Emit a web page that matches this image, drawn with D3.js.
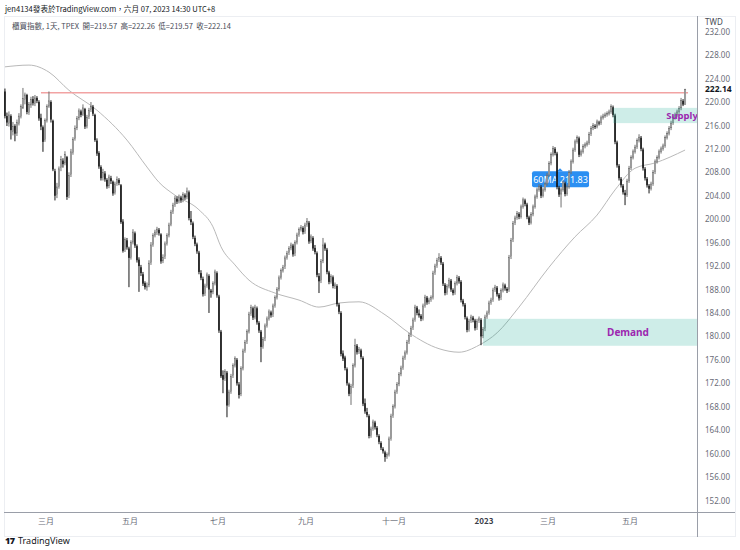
<!DOCTYPE html>
<html><head><meta charset="utf-8">
<script src="https://cdn.jsdelivr.net/npm/d3@7/dist/d3.min.js"></script>
<style>body{margin:0;background:#fff}svg{display:block;font-family:"Noto Sans CJK TC","Noto Sans",sans-serif}</style>
</head><body><svg id="c" width="740" height="550"></svg>
<script>
const opens=[221.8,217.6,216.3,217.6,215.0,215.9,214.7,216.3,217.5,219.0,
220.4,221.2,218.2,219.5,220.5,219.7,220.7,220.0,217.3,215.7,
213.6,216.9,219.3,220.0,216.8,208.2,204.2,205.6,208.8,210.0,
209.6,210.6,204.0,207.6,211.4,213.8,215.6,217.3,218.4,217.9,
218.8,215.9,217.5,218.7,219.2,217.8,213.4,211.3,208.9,207.1,
207.8,206.7,205.7,207.0,206.4,204.6,206.1,206.7,205.8,199.6,
194.8,196.4,195.0,193.5,196.1,197.6,195.4,193.1,191.8,190.6,
189.1,188.3,188.8,192.6,195.7,197.3,197.7,198.2,197.4,192.9,
193.6,195.9,197.3,199.1,201.3,202.5,203.5,203.1,203.7,203.3,
204.1,203.8,204.6,200.0,199.3,196.8,195.7,194.3,190.8,189.8,
187.3,188.7,190.3,187.8,187.6,189.1,190.8,186.8,180.8,173.4,
172.8,173.8,168.4,170.6,173.3,175.1,176.0,171.8,170.2,174.6,
177.6,179.1,180.9,183.9,184.8,183.3,184.8,182.3,180.8,178.3,
179.6,181.9,183.1,184.1,183.7,185.3,186.7,188.1,190.1,191.3,
191.9,193.5,194.3,195.1,195.5,194.1,196.1,197.4,198.3,198.5,
197.9,199.1,199.4,196.3,196.8,195.1,194.2,190.3,189.5,192.9,
195.7,194.8,190.9,189.4,190.1,188.5,188.6,185.4,184.0,177.1,
176.4,174.4,171.8,170.3,171.6,175.1,178.4,177.4,177.6,176.3,
168.6,167.1,166.4,163.1,164.3,165.3,164.4,163.0,161.8,160.8,
160.2,159.5,159.9,162.6,166.5,168.1,170.6,171.9,173.6,174.7,
176.4,177.3,179.1,180.3,181.5,182.9,184.9,183.9,183.5,183.1,
185.3,186.6,185.9,186.3,186.7,190.9,192.1,193.1,193.4,192.4,
188.8,187.5,188.6,189.5,187.9,187.5,189.1,190.0,189.3,186.1,
185.4,183.1,181.2,182.7,183.2,182.7,181.5,182.7,182.8,180.1,
181.3,183.4,184.1,185.8,186.3,188.0,188.3,187.1,186.6,187.9,
188.7,188.1,188.0,193.6,196.5,199.4,200.3,200.9,200.5,202.2,
203.2,202.5,200.3,199.5,200.9,202.2,203.9,205.1,205.5,204.1,
205.1,206.1,207.6,209.6,211.1,212.0,211.2,205.4,204.3,205.1,
206.1,204.4,205.6,208.1,209.9,211.9,213.3,213.8,211.1,211.6,
212.5,212.8,213.1,214.6,215.6,215.9,215.9,216.5,216.5,217.4,
217.7,217.9,218.1,218.4,219.1,217.7,213.1,209.1,206.9,205.7,
204.5,204.2,206.6,208.8,210.6,211.6,212.4,213.5,213.9,211.9,
208.6,206.9,205.7,205.3,206.1,208.1,209.9,210.6,211.6,212.1,
212.6,214.0,214.7,215.6,216.5,217.4,217.9,218.4,219.0,220.2,
219.57];
const highs=[222.3,218.2,218.4,217.9,216.6,216.2,217.0,218.1,219.6,222.4,
221.6,221.4,220.0,220.9,221.0,221.2,221.0,220.3,218.0,216.0,
217.2,219.6,221.8,220.3,217.0,208.6,206.2,209.0,210.8,210.4,
211.6,210.8,208.0,212.0,214.0,216.0,217.6,218.9,218.7,219.6,
219.0,217.8,219.0,220.0,219.5,218.0,213.8,211.6,209.2,208.6,
208.2,207.0,207.6,207.4,206.6,206.4,207.3,207.0,206.0,200.0,
196.9,196.8,195.3,196.4,198.3,197.9,195.7,193.5,192.2,191.0,
189.4,189.2,193.0,196.1,197.6,198.2,198.7,198.5,197.6,194.0,
196.2,197.6,199.4,201.6,202.8,204.0,203.9,204.2,204.0,204.6,
204.4,205.4,204.9,201.4,199.6,197.2,196.0,194.6,191.3,190.2,
189.0,190.9,190.6,188.1,189.4,191.4,191.1,187.1,181.1,174.2,
174.4,174.1,170.9,173.6,175.4,176.6,176.3,172.2,174.9,177.9,
179.4,181.2,184.2,185.4,185.1,185.4,185.1,182.6,181.1,179.9,
182.2,183.4,184.6,184.4,185.6,187.0,188.4,190.4,191.6,192.2,
193.8,194.6,195.4,196.0,195.8,196.4,197.7,198.6,199.0,198.8,
199.4,200.2,199.7,197.4,197.1,195.6,194.5,190.8,193.2,196.8,
196.0,195.1,191.2,190.6,190.4,189.2,188.9,185.7,184.3,177.6,
176.7,174.7,172.1,171.9,175.4,179.6,178.7,178.2,177.9,176.6,
169.4,167.8,166.7,164.6,165.8,165.6,164.7,163.3,162.1,161.1,
160.5,160.2,162.9,166.8,168.4,170.9,172.2,173.9,175.0,176.7,
177.6,179.4,180.6,181.8,183.2,185.4,185.2,184.6,183.8,185.6,
187.1,186.9,186.6,187.0,191.2,192.4,193.4,194.2,193.7,192.7,
189.1,188.9,190.0,189.8,188.2,189.4,190.5,190.3,189.6,186.4,
185.7,183.4,183.0,183.7,183.5,183.0,183.0,183.4,183.1,181.6,
183.7,184.4,186.1,186.6,188.3,188.8,188.6,187.4,188.2,189.2,
189.0,188.4,193.9,196.8,199.7,200.6,201.4,201.2,202.5,203.7,
203.5,202.8,200.6,201.2,202.5,204.2,205.4,206.0,205.8,205.4,
206.4,207.9,209.9,211.4,212.5,212.3,211.5,205.7,205.4,206.6,
206.4,205.9,208.4,210.2,212.2,213.6,214.3,214.1,211.9,212.8,
213.1,213.4,214.9,215.9,216.4,216.2,217.0,216.8,217.7,218.0,
218.2,218.4,218.7,219.6,219.4,218.0,213.4,209.4,207.2,206.0,
205.0,206.9,209.1,210.9,211.9,212.7,213.8,214.5,214.2,212.2,
208.9,207.2,206.0,206.4,208.4,210.2,210.9,211.9,212.4,212.9,
214.3,215.0,215.9,216.8,217.7,218.2,218.7,219.3,220.7,220.5,
222.26];
const lows=[217.2,215.9,215.8,213.6,214.3,213.3,214.2,216.0,217.2,218.8,
219.6,217.9,217.8,219.0,219.4,219.3,219.8,216.8,215.2,211.5,
213.2,216.5,219.0,216.5,208.2,203.2,203.6,205.2,208.2,208.8,
209.2,203.3,203.6,207.2,211.0,213.4,215.2,216.9,217.4,217.6,
215.4,215.5,217.1,218.3,217.6,213.2,210.8,208.6,206.6,206.6,
206.4,205.2,205.3,206.0,204.0,204.2,205.7,205.8,199.2,194.3,
194.4,194.8,188.4,193.1,195.7,195.1,192.6,187.6,190.3,188.6,
188.0,187.8,188.4,192.2,195.3,196.9,197.3,197.2,192.4,192.5,
193.2,195.5,196.9,198.8,200.9,202.1,202.6,202.7,202.8,202.9,
203.3,203.4,199.8,199.0,196.6,195.4,194.1,190.6,189.6,186.8,
186.9,188.3,184.0,186.6,187.2,188.7,186.6,180.6,172.9,170.3,
172.4,166.2,168.0,170.2,172.9,174.7,171.6,169.4,169.8,174.2,
177.2,178.7,180.5,183.5,182.8,182.9,182.0,180.6,175.6,177.9,
179.2,181.5,182.7,183.2,183.3,184.9,186.3,187.7,189.7,190.9,
191.5,193.1,193.9,194.7,193.6,193.7,195.7,197.0,197.9,197.4,
197.5,198.7,195.8,195.9,194.6,194.0,190.1,187.4,189.1,192.5,
194.6,190.6,188.9,189.0,188.2,188.1,185.1,183.8,176.6,175.8,
174.2,171.6,169.8,168.3,171.2,174.7,176.9,177.0,176.1,168.1,
166.8,166.2,162.6,162.7,163.9,164.1,162.8,161.6,160.6,160.0,
158.6,159.1,159.5,162.2,166.1,167.7,170.2,171.5,173.2,174.3,
176.0,176.9,178.7,179.9,181.1,182.5,183.6,183.2,182.6,182.7,
184.9,185.4,185.5,185.9,186.3,190.5,191.7,192.7,192.2,188.6,
187.0,187.1,188.2,187.6,187.0,187.1,188.7,189.0,185.8,185.1,
182.9,180.7,180.8,182.3,182.4,181.0,181.1,182.3,178.5,179.7,
180.9,183.0,183.7,185.4,185.9,187.6,186.8,186.1,186.2,187.5,
187.8,187.4,187.6,193.2,196.1,199.0,199.9,200.0,200.1,201.8,
202.2,200.0,199.0,199.1,200.5,201.8,203.5,204.7,203.6,203.7,
204.7,205.7,207.2,209.2,210.7,210.9,205.1,203.8,202.0,204.7,
203.9,204.0,205.2,207.7,209.5,211.5,212.9,210.6,210.7,211.2,
212.1,212.4,212.7,214.2,215.2,215.4,215.5,216.0,216.1,217.0,
217.3,217.5,217.7,218.0,217.4,212.8,208.8,206.6,205.4,204.2,
202.4,203.8,206.2,208.4,210.2,211.2,212.0,213.1,211.6,208.3,
206.6,205.4,204.4,204.9,205.7,207.7,209.5,210.2,211.2,211.7,
212.2,213.6,214.3,215.2,216.1,217.0,217.5,218.0,218.6,219.3,
219.57];
const closes=[217.6,216.5,217.8,215.2,215.8,214.6,216.5,217.6,219.2,220.6,
221.2,218.3,219.6,220.4,219.8,220.7,220.2,217.2,215.8,213.2,
216.8,219.2,220.2,217.0,208.5,204.0,205.5,208.6,210.2,209.4,
211.0,203.8,207.5,211.5,213.6,215.5,217.2,218.5,217.8,219.0,
215.8,217.4,218.6,219.2,218.0,213.5,211.2,209.0,207.0,208.0,
206.8,205.6,207.2,206.5,204.4,206.0,206.8,206.2,199.5,194.6,
196.5,195.2,193.4,196.0,197.8,195.5,193.0,192.0,190.8,189.0,
188.4,188.6,192.5,195.6,197.2,197.8,198.3,197.6,192.8,193.5,
195.8,197.2,199.0,201.2,202.4,203.6,203.0,203.8,203.2,204.2,
203.7,204.8,200.2,199.5,197.0,195.8,194.5,191.0,190.0,187.2,
188.6,190.5,188.0,187.5,189.0,191.0,187.0,181.0,173.2,172.6,
174.0,168.2,170.5,173.2,175.0,176.2,172.0,170.0,174.5,177.5,
179.0,180.8,183.8,184.9,183.2,185.0,182.4,181.0,178.2,179.5,
181.8,183.0,184.2,183.6,185.2,186.6,188.0,190.0,191.2,191.8,
193.4,194.2,195.0,195.6,194.0,196.0,197.3,198.2,198.6,197.8,
199.0,199.6,196.2,197.0,195.0,194.4,190.5,189.4,192.8,195.6,
195.0,191.0,189.3,190.2,188.6,188.8,185.5,184.2,177.0,176.2,
174.6,172.0,170.2,171.5,175.0,178.5,177.3,177.8,176.5,168.5,
167.2,166.6,163.0,164.2,165.4,164.5,163.2,162.0,161.0,160.4,
159.4,159.8,162.5,166.4,168.0,170.5,171.8,173.5,174.6,176.3,
177.2,179.0,180.2,181.4,182.8,185.0,184.0,183.6,183.0,185.2,
186.7,185.8,186.2,186.6,190.8,192.0,193.0,193.5,192.6,189.0,
187.4,188.5,189.6,188.0,187.4,189.0,190.1,189.4,186.2,185.5,
183.3,181.1,182.6,183.3,182.8,181.4,182.6,183.0,180.0,181.2,
183.3,184.0,185.7,186.2,187.9,188.4,187.2,186.5,187.8,188.8,
188.2,187.8,193.5,196.4,199.3,200.2,201.0,200.4,202.1,203.3,
202.6,200.4,199.4,200.8,202.1,203.8,205.0,205.6,204.0,205.0,
206.0,207.5,209.5,211.0,212.1,211.3,205.5,204.2,205.0,206.2,
204.3,205.5,208.0,209.8,211.8,213.2,213.9,211.0,211.5,212.4,
212.7,213.0,214.5,215.5,216.0,215.8,216.6,216.4,217.3,217.6,
217.8,218.0,218.3,219.2,217.8,213.2,209.2,207.0,205.8,204.6,
204.1,206.5,208.7,210.5,211.5,212.3,213.4,214.0,212.0,208.7,
207.0,205.8,205.2,206.0,208.0,209.8,210.5,211.5,212.0,212.5,
213.9,214.6,215.5,216.4,217.3,217.8,218.3,218.9,220.3,219.57,
222.14];

// 60-day moving average at sample bars
const maBars=[0,12,22,32,46,61,71,77,85,97,104,108,115,122,135,147,157,167,177,190,202,217,227,237,246,257,272,285,296,305,315,325,340];
const maValues=[226.0,226.3,225.1,222.0,218.6,213.5,208.9,206.3,204.1,201.6,198.7,195.3,192.2,189.6,187.4,186.2,185.0,185.7,185.9,183.7,180.6,177.9,177.3,178.5,180.6,185.0,191.8,197.0,200.7,205.0,208.7,209.6,211.8];

const monthLabels=["三月","五月","七月","九月","十一月","2023","三月","五月"];
const monthBars=[20,62,106,150,194,239,271,312];
const priceTicks=[152,156,160,164,168,172,176,180,184,188,192,196,200,204,208,212,216,220,224,228,232];

const resistance={value:221.6,fromBar:18,toBar:340};
const supply={low:216.4,high:219.0,fromBar:304,label:"Supply"};
const demand={low:178.4,high:183.0,fromBar:239,label:"Demand"};
const lastPrice=222.14, maLast=211.83;
const maLabelBar=272, maLabelValue=206.8;

const svg=d3.select("#c");
const plotL=0, plotR=697, plotT=16, plotB=512;
const n=closes.length;
const x=d3.scaleBand().domain(d3.range(n)).range([4,4+2*n]).paddingInner(0.25).paddingOuter(0.1);
const y=d3.scaleLinear().domain([150.03,234.85]).range([512,15]);
const cx=i=>x(i)+x.bandwidth()/2;

// frame
svg.append("rect").attr("x",4.5).attr("y",16.5).attr("width",731).attr("height",520).attr("fill","none").attr("stroke","#eceef2");

const defs=svg.append("defs");
defs.append("clipPath").attr("id","clip").append("rect")
  .attr("x",plotL).attr("y",plotT).attr("width",plotR-plotL).attr("height",plotB-plotT);
defs.append("clipPath").attr("id","axclip").append("rect")
  .attr("x",1).attr("y",28).attr("width",45).attr("height",plotB-28);
const g=svg.append("g").attr("clip-path","url(#clip)");

// MA label (behind candles)
const maLbl=g.append("g").attr("transform",`translate(${cx(maLabelBar)},${y(maLabelValue)})`);
maLbl.append("rect").attr("x",-17).attr("y",-8).attr("width",57).attr("height",16).attr("rx",2).attr("fill","#2b8ff2");
maLbl.append("path").attr("d","M8,-8 L11,-11 L14,-8 Z").attr("fill","#2b8ff2");
maLbl.append("text").attr("x",11.5).attr("y",3.3).attr("text-anchor","middle").attr("fill","#fff")
  .attr("font-size",9).attr("font-family","Noto Sans, sans-serif").text(`60MA ${maLast.toFixed(2)}`);

// MA line
g.append("path").datum(maBars.map((b,i)=>[b,maValues[i]]))
  .attr("d",d3.line().x(d=>cx(d[0])).y(d=>y(d[1])).curve(d3.curveMonotoneX))
  .attr("fill","none").attr("stroke","#b9b9b9").attr("stroke-width",1);

// resistance line
g.append("line").attr("x1",cx(resistance.fromBar)).attr("x2",cx(resistance.toBar)+3)
  .attr("y1",y(resistance.value)).attr("y2",y(resistance.value))
  .attr("stroke","#f2a3a3").attr("stroke-width",1.5);

// candles
const bars=d3.range(n).map(i=>({i,o:opens[i],h:highs[i],l:lows[i],c:closes[i]}));
const cg=g.append("g");
cg.selectAll("line.w").data(bars).join("line")
  .attr("x1",d=>cx(d.i)).attr("x2",d=>cx(d.i))
  .attr("y1",d=>y(d.h)).attr("y2",d=>y(d.l))
  .attr("stroke",d=>d.c>=d.o?"#707070":"#151515").attr("stroke-width",1);
cg.selectAll("rect.b").data(bars).join("rect")
  .attr("x",d=>x(d.i)).attr("width",x.bandwidth())
  .attr("y",d=>y(Math.max(d.o,d.c))).attr("height",d=>Math.max(1,Math.abs(y(d.o)-y(d.c))))
  .attr("fill",d=>d.c>=d.o?"#d6d6d6":"#151515")
  .attr("stroke",d=>d.c>=d.o?"#5c5c5c":"none").attr("stroke-width",0.45);

// zones
[supply,demand].forEach(z=>{
  g.append("rect").attr("x",cx(z.fromBar)).attr("width",plotR-cx(z.fromBar)+2)
   .attr("y",y(z.high)).attr("height",y(z.low)-y(z.high))
   .attr("fill","rgba(34,171,148,0.22)");
});
g.append("text").attr("x",682).attr("y",(y(supply.high)+y(supply.low))/2+3.3).attr("text-anchor","middle")
  .attr("fill","#9c27b0").attr("font-weight","bold").attr("font-size",9.5).attr("font-family","Noto Sans, sans-serif").text(supply.label);
g.append("text").attr("x",628).attr("y",(y(demand.high)+y(demand.low))/2+3.5).attr("text-anchor","middle")
  .attr("fill","#9c27b0").attr("font-weight","bold").attr("font-size",10).attr("font-family","Noto Sans, sans-serif").text(demand.label);

// right axis
svg.append("line").attr("x1",plotR+0.5).attr("x2",plotR+0.5).attr("y1",16).attr("y2",537).attr("stroke","#9a9ea8");
const ax=svg.append("g").attr("transform",`translate(${plotR},0)`).attr("clip-path","url(#axclip)")
  .call(d3.axisRight(y).tickValues(priceTicks).tickSize(0).tickPadding(8).tickFormat(d3.format(".2f")));
ax.select(".domain").remove();
ax.selectAll("text").attr("fill","#6a6d78").attr("font-size",8).attr("font-family","Noto Sans, sans-serif");
svg.append("text").attr("x",705).attr("y",25).attr("fill","#4a4d58").attr("font-size",8).attr("font-family","Noto Sans, sans-serif").text("TWD");
svg.append("rect").attr("x",699).attr("y",y(lastPrice)-5).attr("width",36).attr("height",10).attr("fill","#fff");
svg.append("text").attr("x",705).attr("y",y(lastPrice)+3).attr("fill","#131722").attr("font-weight","bold")
  .attr("font-size",8.5).attr("font-family","Noto Sans, sans-serif").text(lastPrice.toFixed(2));

// bottom axis
svg.append("line").attr("x1",4).attr("x2",735).attr("y1",512.5).attr("y2",512.5).attr("stroke","#9a9ea8");
svg.append("g").selectAll("text").data(monthBars).join("text")
  .attr("x",d=>cx(d)+1).attr("y",524).attr("text-anchor","middle")
  .attr("fill",(d,i)=>monthLabels[i]==="2023"?"#3a3d48":"#6a6d78")
  .attr("font-weight",(d,i)=>monthLabels[i]==="2023"?"bold":"normal")
  .attr("font-size",8).text((d,i)=>monthLabels[i]);

// header
svg.append("text").attr("x",5).attr("y",12).attr("fill","#131722").attr("font-size",7.6)
  .text("jen4134發表於TradingView.com，六月 07, 2023 14:30 UTC+8");
svg.append("text").attr("x",12).attr("y",29).attr("fill","#4a4d58").attr("font-size",7.5)
  .attr("xml:space","preserve").text("櫃買指數, 1天, TPEX  開=219.57  高=222.26  低=219.57  收=222.14");

// footer
svg.append("text").attr("x",5).attr("y",544).attr("fill","#131722").attr("font-size",9).attr("font-weight",900)
  .attr("font-family","Noto Sans, sans-serif").attr("letter-spacing",-0.5).text("17");
svg.append("text").attr("x",18).attr("y",544).attr("fill","#131722").attr("font-size",9)
  .attr("font-family","Noto Sans, sans-serif").text("TradingView");
</script></body></html>
